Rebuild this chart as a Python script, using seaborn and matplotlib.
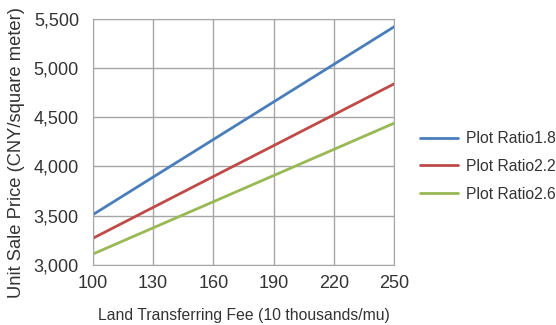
import pandas as pd
import matplotlib
matplotlib.use('Agg')
import matplotlib.pyplot as plt
import seaborn as sns

# Veriler
fees = [100, 130, 160, 190, 220, 250]
ratio_18 = [3510, 3892, 4274, 4656, 5038, 5420]
ratio_22 = [3270, 3584, 3898, 4212, 4526, 4840]
ratio_26 = [3110, 3376, 3642, 3908, 4174, 4440]
series_names = ['Plot Ratio1.8', 'Plot Ratio2.2', 'Plot Ratio2.6']
colors = ['#4a7ebb', '#be4b48', '#98b954']

df = pd.DataFrame({'fee': fees * 3,
                   'price': ratio_18 + ratio_22 + ratio_26,
                   'series': [s for s in series_names for _ in fees]})

sns.set_style('white')
plt.rcParams['font.family'] = ['Liberation Sans', 'DejaVu Sans']

fig = plt.figure(figsize=(5.56, 3.25), dpi=100)
ax = fig.add_axes([0.167, 0.185, 0.542, 0.757])

sns.lineplot(data=df, x='fee', y='price', hue='series', palette=colors,
             linewidth=2, ax=ax)

ax.set_xlim(100, 250)
ax.set_ylim(3000, 5500)
ax.set_xticks([100, 130, 160, 190, 220, 250])
ax.set_yticks([3000, 3500, 4000, 4500, 5000, 5500])
ax.set_yticklabels([f'{v:,}' for v in [3000, 3500, 4000, 4500, 5000, 5500]])
ax.grid(True, color='#a6a6a6', linewidth=1)
for sp in ax.spines.values():
    sp.set_color('#a6a6a6')
ax.tick_params(axis='both', length=4, color='#a6a6a6', labelsize=13,
               labelcolor='#333333')
ax.tick_params(axis='x', pad=3)
ax.tick_params(axis='y', pad=6)

ax.set_xlabel('Land Transferring Fee (10 thousands/mu)', fontsize=11.3,
              color='#333333', labelpad=12)
ax.set_ylabel('Unit Sale Price (CNY/square meter)', fontsize=13.2,
              color='#333333')
ax.yaxis.set_label_coords(-0.226, 0.455)

leg = ax.legend(loc='center left', bbox_to_anchor=(1.04, 0.40), frameon=False,
                fontsize=11.3, handlelength=2.4, labelspacing=0.8,
                handletextpad=0.5)
for t in leg.get_texts():
    t.set_color('#333333')

fig.savefig('out.png', dpi=100)
